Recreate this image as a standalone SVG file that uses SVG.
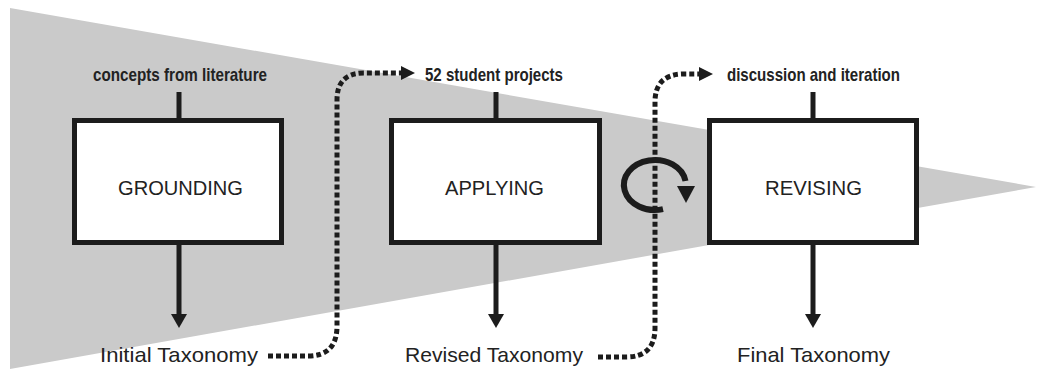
<svg xmlns="http://www.w3.org/2000/svg" width="1038" height="370" viewBox="0 0 1038 370">
  <style>
    .box { fill: #ffffff; stroke: #1c1c1c; stroke-width: 5; }
    .stem { stroke: #1c1c1c; stroke-width: 5; fill: none; }
    .down { stroke: #1c1c1c; stroke-width: 5; fill: none; marker-end: url(#headDown); }
    .dotted { stroke: #1c1c1c; stroke-width: 5; fill: none; stroke-dasharray: 5 3; marker-end: url(#headRight); }
    .boxlabel { font-family: "Liberation Sans", "DejaVu Sans", sans-serif; font-size: 21px; fill: #222; text-anchor: middle; }
    .toplabel { font-family: "Liberation Sans Narrow", "Liberation Sans", sans-serif; font-weight: bold; font-size: 19px; fill: #222; text-anchor: middle; }
    .botlabel { font-family: "Liberation Sans", "DejaVu Sans", sans-serif; font-size: 21px; fill: #222; text-anchor: middle; }
  </style>
  <defs>
    <marker id="headRight" viewBox="0 0 14 14" refX="1" refY="7" markerWidth="14" markerHeight="14" markerUnits="userSpaceOnUse" orient="auto">
      <path d="M0,0 L14,7 L0,14 Z" fill="#1c1c1c"/>
    </marker>
    <marker id="headDown" viewBox="0 0 14 16" refX="1" refY="8" markerWidth="14" markerHeight="16" markerUnits="userSpaceOnUse" orient="auto">
      <path d="M0,0 L14,8 L0,16 Z" fill="#1c1c1c"/>
    </marker>
  </defs>

  <polygon id="funnel" points="10,8 1036,187 10,369" fill="#cacaca"/>

  <g id="grounding">
    <text class="toplabel" x="180" y="81" textLength="174" lengthAdjust="spacingAndGlyphs">concepts from literature</text>
    <line class="stem" x1="179" y1="92" x2="179" y2="119"/>
    <rect class="box" x="74.5" y="120.5" width="207" height="122"/>
    <text class="boxlabel" x="180.5" y="195" textLength="125" lengthAdjust="spacingAndGlyphs">GROUNDING</text>
    <line class="down" x1="179" y1="245" x2="179" y2="315"/>
    <text class="botlabel" x="179" y="362" textLength="158" lengthAdjust="spacingAndGlyphs">Initial Taxonomy</text>
  </g>

  <g id="applying">
    <text class="toplabel" x="494" y="81" textLength="138" lengthAdjust="spacingAndGlyphs">52 student projects</text>
    <line class="stem" x1="496" y1="92" x2="496" y2="119"/>
    <rect class="box" x="391.5" y="120.5" width="208" height="122"/>
    <text class="boxlabel" x="494.5" y="195" textLength="99" lengthAdjust="spacingAndGlyphs">APPLYING</text>
    <line class="down" x1="496" y1="245" x2="496" y2="315"/>
    <text class="botlabel" x="494" y="362" textLength="178" lengthAdjust="spacingAndGlyphs">Revised Taxonomy</text>
  </g>

  <g id="revising">
    <text class="toplabel" x="813.5" y="81" textLength="173" lengthAdjust="spacingAndGlyphs">discussion and iteration</text>
    <line class="stem" x1="813" y1="92" x2="813" y2="119"/>
    <rect class="box" x="709.5" y="120.5" width="207" height="122"/>
    <text class="boxlabel" x="813.5" y="195" textLength="97" lengthAdjust="spacingAndGlyphs">REVISING</text>
    <line class="down" x1="813" y1="245" x2="813" y2="315"/>
    <text class="botlabel" x="813.5" y="362" textLength="153" lengthAdjust="spacingAndGlyphs">Final Taxonomy</text>
  </g>

  <g id="connectors">
    <path class="dotted" d="M268 356 H308 Q337 356 337 326 V100 Q337 73 364 73 H402"/>
    <path class="dotted" d="M598 357 H626 Q655 357 655 328 V102 Q655 74 684 74 H700"/>
  </g>

  <g id="cycle">
    <path d="M663 209.1 A31 25 0 1 1 685.5 181" fill="none" stroke="#1c1c1c" stroke-width="6"/>
    <polygon points="677,186 695,186 686,203" fill="#1c1c1c"/>
  </g>
</svg>
